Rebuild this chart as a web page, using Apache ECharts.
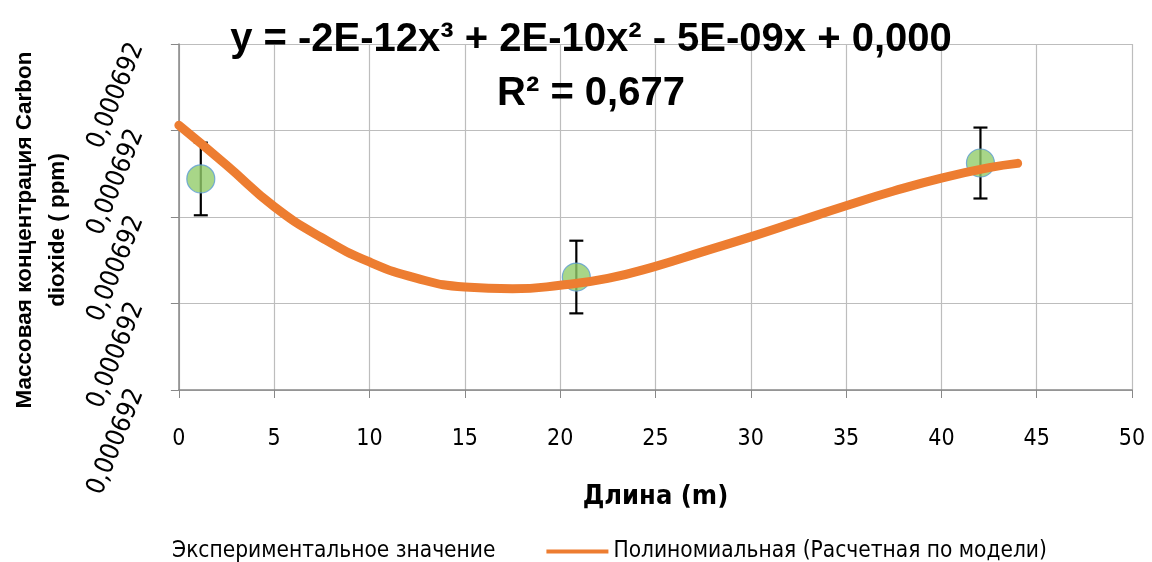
<!DOCTYPE html>
<html>
<head>
<meta charset="utf-8">
<script src="https://cdn.jsdelivr.net/npm/echarts@6/dist/echarts.min.js"></script>
<style>
html,body{margin:0;padding:0;background:#fff;}
#chart{width:1152px;height:562px;}
</style>
</head>
<body>
<div id="chart"></div>
<script>
// ---- data ----
var expX = [1.15, 20.85, 42.05];
var expY = [0.000692044, 0.0006919306, 0.0006920624];
var expErr = [0.000000042, 0.000000042, 0.000000041];
var fitX = [0, 2.5, 5, 7.5, 10, 12.5, 15, 17.5, 20, 22.5, 25, 27.5, 30, 32.5, 35, 37.5, 40, 42.5, 44];
var fitY = [0.000692106, 0.000692060, 0.000692012, 0.000691976, 0.000691948, 0.000691929, 0.000691919,
            0.000691917, 0.000691921, 0.000691929, 0.000691943, 0.000691960, 0.000691977, 0.000691995,
            0.000692013, 0.000692030, 0.000692045, 0.000692057, 0.000692062];
var yTickLabel = '0,000692';
var seriesExp = 'Экспериментальное значение';
var seriesFit = 'Полиномиальная (Расчетная по модели)';
var titleLines = ['y = -2E-12x³ + 2E-10x² - 5E-09x + 0,000', 'R² = 0,677'];
var xName = 'Длина (m)';
var yName = 'Массовая концентрация Carbon\ndioxide ( ppm)';

var cond = '"DejaVu Sans Condensed", "DejaVu Sans", sans-serif';
var sans = '"Liberation Sans", Arial, sans-serif';

var chart = echarts.init(document.getElementById('chart'), null, {renderer: 'canvas'});
var option = {
  animation: false,
  backgroundColor: '#fff',
  title: {
    text: titleLines.join('\n'),
    left: 586, top: 8, textAlign: 'center',
    textStyle: {fontFamily: sans, fontWeight: 'bold', fontSize: 40, lineHeight: 54, color: '#000'}
  },
  legend: {
    top: 535, left: 99,
    itemWidth: 62, itemHeight: 4, itemGap: 51,
    textStyle: {fontFamily: cond, fontSize: 22.5, color: '#000'},
    data: [
      {name: seriesExp, icon: 'rect', itemStyle: {opacity: 0}},
      {name: seriesFit, icon: 'rect', itemStyle: {color: '#ED7D31'}}
    ]
  },
  grid: {left: 177, right: 20, top: 44, bottom: 172},
  xAxis: {
    type: 'value', min: 0, max: 50, interval: 5,
    name: xName, nameLocation: 'middle', nameGap: 93,
    nameTextStyle: {fontFamily: cond, fontWeight: 'bold', fontSize: 27, color: '#000'},
    axisLine: {lineStyle: {color: '#888', width: 1.5}},
    axisTick: {show: true, length: 8, lineStyle: {color: '#888'}},
    axisLabel: {fontFamily: cond, fontSize: 23, color: '#000', margin: 38},
    splitLine: {show: true, lineStyle: {color: '#BDBDBD', width: 1.2}}
  },
  yAxis: {
    type: 'value', min: 0.0006918, max: 0.0006922, interval: 0.0000001,
    name: yName, nameLocation: 'middle', nameGap: 98, nameRotate: 90,
    nameTextStyle: {fontFamily: sans, fontWeight: 'bold', fontSize: 22.5, color: '#000', lineHeight: 33, padding: [0, 26, 0, 0]},
    axisLine: {show: true, lineStyle: {color: '#888', width: 1.5}},
    axisTick: {show: true, length: 8, lineStyle: {color: '#888'}},
    axisLabel: {fontFamily: cond, fontSize: 26, color: '#000', rotate: 68, margin: 42,
      formatter: function () { return yTickLabel; }},
    splitLine: {show: true, lineStyle: {color: '#BDBDBD', width: 1.2}}
  },
  series: [
    {
      name: seriesFit, type: 'line', smooth: true, showSymbol: false, symbol: 'none',
      data: fitX.map(function (x, i) { return [x, fitY[i]]; }),
      lineStyle: {color: '#ED7D31', width: 9, cap: 'round'},
      itemStyle: {color: '#ED7D31'}, z: 3
    },
    {
      name: 'err', type: 'custom',
      data: expX.map(function (x, i) { return [x, expY[i] - expErr[i], expY[i] + expErr[i]]; }),
      renderItem: function (params, api) {
        var lo = api.coord([api.value(0), api.value(1)]);
        var hi = api.coord([api.value(0), api.value(2)]);
        var w = 7;
        var st = {stroke: '#000', lineWidth: 2.2};
        return {type: 'group', children: [
          {type: 'line', shape: {x1: lo[0], y1: lo[1], x2: hi[0], y2: hi[1]}, style: st},
          {type: 'line', shape: {x1: lo[0] - w, y1: lo[1], x2: lo[0] + w, y2: lo[1]}, style: st},
          {type: 'line', shape: {x1: hi[0] - w, y1: hi[1], x2: hi[0] + w, y2: hi[1]}, style: st}
        ]};
      },
      z: 2
    },
    {
      name: seriesExp, type: 'scatter', symbol: 'circle', symbolSize: 28,
      data: expX.map(function (x, i) { return [x, expY[i]]; }),
      itemStyle: {color: '#92CC6A', borderColor: '#5B9BD5', borderWidth: 1.2},
      z: 2
    }
  ]
};
chart.setOption(option);
</script>
</body>
</html>
